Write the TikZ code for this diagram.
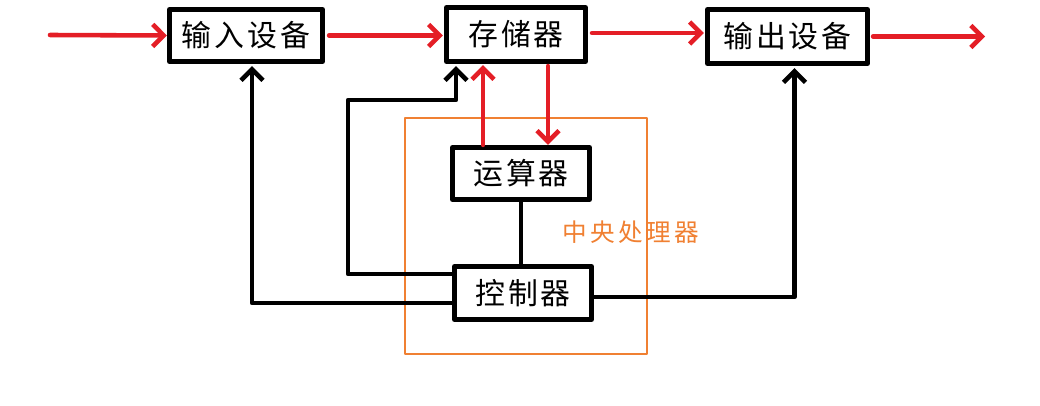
\documentclass[tikz,border=0pt]{standalone}
\usepackage{fontspec}
\newfontfamily\cjk[LetterSpace=10]{Noto Sans CJK SC}
\newfontfamily\cjklabel[LetterSpace=14]{Noto Sans CJK SC}
\usetikzlibrary{arrows.meta,calc}
\definecolor{arrowred}{RGB}{228,30,38}
\definecolor{cpuorange}{RGB}{240,128,50}
\tikzset{
  every picture/.style={line join=round, line cap=round},
  unit/.style={draw, line width=2.9pt, fill=white, minimum height=52*0.2mm, inner sep=0pt, font=\cjk\fontsize{17}{20}\selectfont},
  redflow/.style={draw=arrowred, line width=2.6pt, -{Straight Barb[length=2.2mm,width=4.4mm]}},
  ctlflow/.style={draw=black, line width=2.6pt, line cap=butt},
  ctlarrow/.style={ctlflow, -{Straight Barb[length=2.2mm,width=4.4mm]}},
}
\begin{document}
\begin{tikzpicture}[x=0.2mm,y=-0.2mm]
\useasboundingbox (0,0) rectangle (1040,406);
% central processing unit frame
\node[draw=cpuorange, line width=1.6pt, minimum width=242*0.2mm, minimum height=236*0.2mm, inner sep=0pt] (cpu) at (526,236) {};
\node[text=cpuorange, font=\cjklabel\fontsize{14}{16}\selectfont] (cpulabel) at (631,232) {中央处理器};
% units
\node[unit, minimum width=153*0.2mm] (in) at (246,35.5) {输入设备};
\node[unit, minimum width=139*0.2mm, minimum height=54*0.2mm] (mem) at (516,34.5) {存储器};
\node[unit, minimum width=160*0.2mm, minimum height=54*0.2mm] (out) at (787.5,36.5) {输出设备};
\node[unit, minimum width=137*0.2mm] (alu) at (521,173.5) {运算器};
\node[unit, minimum width=137*0.2mm, minimum height=53*0.2mm] (ctl) at (523,293) {控制器};
% free ends
\coordinate (src) at (50,35);
\coordinate (sink) at (985,34);
\coordinate (up) at (483,0);
\coordinate (down) at (548,0);
\coordinate (c1) at (348,100);
\coordinate (c2) at (456,100);
\coordinate (m1) at ($(mem.east)+(0,-1.5)$);
% data flow
\draw[redflow] (src) -- (in.west);
\draw[redflow, shorten <=4*0.2mm, shorten >=1*0.2mm] (in.east) -- (in.east -| mem.west);
\draw[redflow, shorten <=4*0.2mm, shorten >=1*0.2mm] (m1) -- (m1 -| out.west);
\draw[redflow, shorten <=3*0.2mm] (out.east) -- (out.east -| sink);
\draw[redflow, shorten >=1*0.2mm] (alu.north -| up) -- (mem.south -| up);
\draw[redflow, shorten <=2*0.2mm] (mem.south -| down) -- (alu.north -| down);
% control lines
\draw[ctlflow] (alu.south) -- (alu.south |- ctl.north);
\draw[ctlarrow, shorten >=2*0.2mm] ($(ctl.west)+(0,-19)$) -| (c1) -- (c2) -- (c2 |- mem.south);
\draw[ctlarrow, shorten >=2*0.2mm] ($(ctl.west)+(0,10)$) -| ($(in.south)+(6,0)$);
\draw[ctlarrow, shorten >=2*0.2mm] ($(ctl.east)+(0,4)$) -| ($(out.south)+(7,0)$);
\end{tikzpicture}
\end{document}
